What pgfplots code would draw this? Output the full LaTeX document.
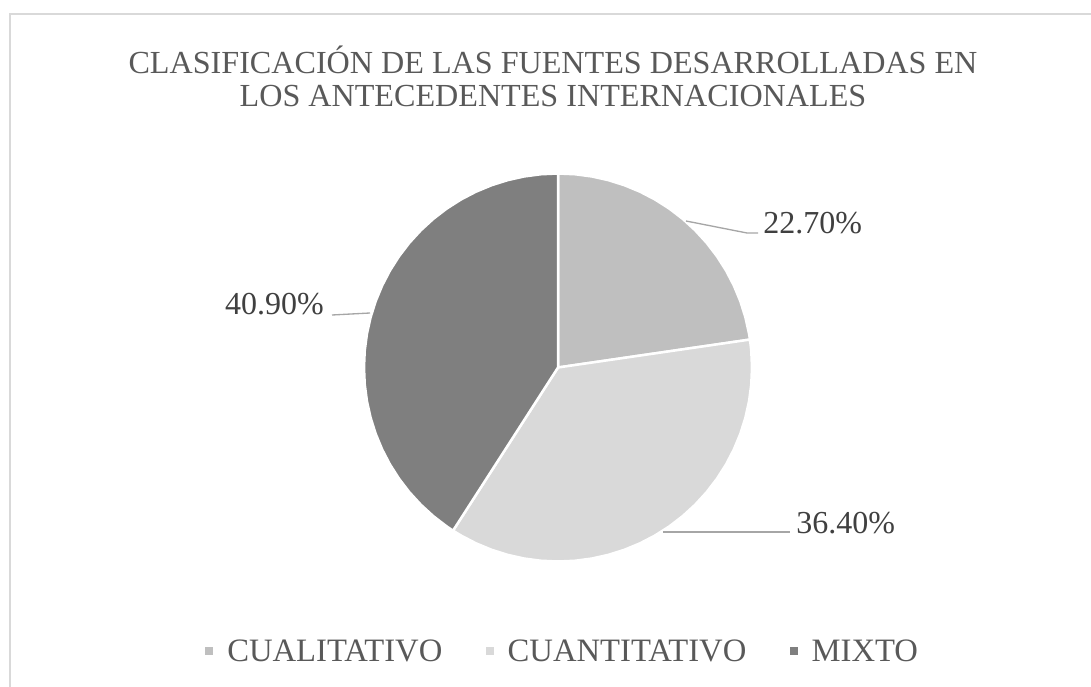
\documentclass[border=0pt]{standalone}
\usepackage{pgfplots}
\pgfplotsset{compat=1.18}
\usepgfplotslibrary{polar}
\usepackage{fontspec}
\setmainfont{Liberation Serif}
\definecolor{cCual}{HTML}{BFBFBF}
\definecolor{cCuan}{HTML}{D9D9D9}
\definecolor{cMix}{HTML}{7F7F7F}
\definecolor{cTitle}{HTML}{595959}
\definecolor{cLab}{HTML}{404040}
\definecolor{cLead}{HTML}{A6A6A6}
\definecolor{cFrame}{HTML}{D9D9D9}
% Shares: CUALITATIVO 22.70%, CUANTITATIVO 36.40%, MIXTO 40.90%
% Slices clockwise from 12 o'clock: 90 -> 8.28 -> -122.76 -> -270 (degrees)
\begin{document}
\begin{tikzpicture}[x=0.75pt,y=0.75pt]
\path[use as bounding box] (0,0) rectangle (1091,686);
\draw[cFrame, line width=1.2pt] (10,-10) -- (10,672) -- (1100,672);
\coordinate (pc) at (558,318.5);
\begin{axis}[
  at={(pc)}, anchor=center,
  width=291pt, height=291pt, scale only axis,
  hide axis, clip=false,
  xmin=-1, xmax=1, ymin=-1, ymax=1,
  data cs=polar,
  legend columns=3,
  legend image code/.code={\fill[#1, draw=none] (0pt,-2pt) rectangle (6pt,4pt);\path (13.5pt,0pt);},
  legend style={at={(0.513,-0.233)}, anchor=center, draw=none, fill=none,
    font=\fontsize{24.5}{28}\selectfont, text=cTitle,
    /tikz/every even column/.append style={column sep=30.5pt}},
]
\addplot[fill=cCual, draw=white, line width=1.875pt, line join=round] coordinates {
(0,0) (90,1) (85,1) (80,1) (75,1) (70,1) (65,1) (60,1) (55,1) (50,1) (45,1) (40,1)
(35,1) (30,1) (25,1) (20,1) (15,1) (10,1) (8.28,1)} -- cycle;
\addlegendentry{CUALITATIVO}
\addplot[fill=cCuan, draw=white, line width=1.875pt, line join=round] coordinates {
(0,0) (8.28,1) (5,1) (0,1) (-5,1) (-10,1) (-15,1) (-20,1) (-25,1) (-30,1) (-35,1)
(-40,1) (-45,1) (-50,1) (-55,1) (-60,1) (-65,1) (-70,1) (-75,1) (-80,1) (-85,1)
(-90,1) (-95,1) (-100,1) (-105,1) (-110,1) (-115,1) (-120,1) (-122.76,1)} -- cycle;
\addlegendentry{CUANTITATIVO}
\addplot[fill=cMix, draw=white, line width=1.875pt, line join=round] coordinates {
(0,0) (-122.76,1) (-125,1) (-130,1) (-135,1) (-140,1) (-145,1) (-150,1) (-155,1)
(-160,1) (-165,1) (-170,1) (-175,1) (-180,1) (-185,1) (-190,1) (-195,1) (-200,1)
(-205,1) (-210,1) (-215,1) (-220,1) (-225,1) (-230,1) (-235,1) (-240,1) (-245,1)
(-250,1) (-255,1) (-260,1) (-265,1) (-270,1)} -- cycle;
\addlegendentry{MIXTO}
\end{axis}
% leader lines
\draw[cLead, line width=1pt] (686,465) -- (747,453) -- (758,453);
\draw[cLead, line width=1pt] (663,154) -- (790,154);
\draw[cLead, line width=1pt] (332,371) -- (370,373);
% data labels
\node[anchor=base west, inner sep=0, text=cLab, font=\fontsize{24}{28}\selectfont] at (763,452) {22.70\%};
\node[anchor=base west, inner sep=0, text=cLab, font=\fontsize{24}{28}\selectfont] at (796,153) {36.40\%};
\node[anchor=base east, inner sep=0, text=cLab, font=\fontsize{24}{28}\selectfont] at (324,371) {40.90\%};
% title
\node[anchor=base, inner sep=0, text=cTitle, font=\fontsize{24.1}{28}\selectfont] at (553,612) {CLASIFICACIÓN DE LAS FUENTES DESARROLLADAS EN};
\node[anchor=base, inner sep=0, text=cTitle, font=\fontsize{24.1}{28}\selectfont] at (553,579) {LOS ANTECEDENTES INTERNACIONALES};
\end{tikzpicture}
\end{document}
